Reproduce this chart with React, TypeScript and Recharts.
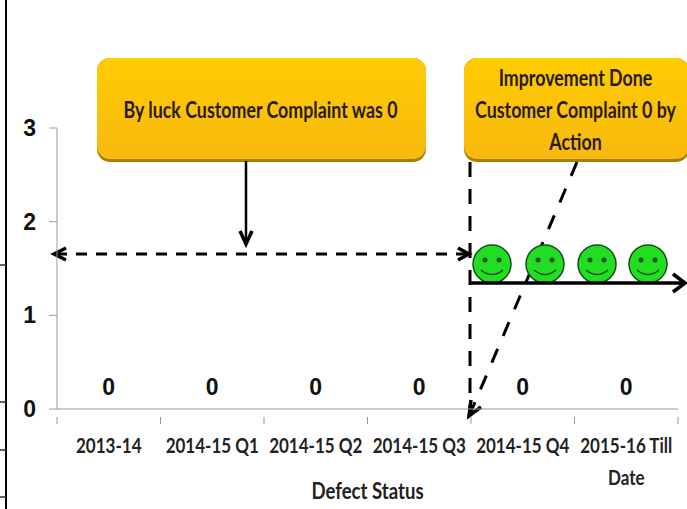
import React from 'react';
import { ComposedChart, Line, Bar, XAxis, YAxis, LabelList, Label } from 'recharts';

const categories = ['2013-14', '2014-15 Q1', '2014-15 Q2', '2014-15 Q3', '2014-15 Q4', '2015-16 Till Date'];
const complaints = [0, 0, 0, 0, 0, 0];
const yTicks = [0, 1, 2, 3];
const data = categories.map((name, i) => ({ name, complaints: complaints[i] }));

const font = 'Lato, "Liberation Sans", sans-serif';
const smileyX = [492, 545, 597, 648];

// Narrow bold text, Lato squeezed to sit close to the Calibri of the original
const NarrowText = ({ x, y, fontSize = 22, fill = '#222', children }: any) => (
    <text
        transform={`translate(${x} ${y}) scale(0.81 1)`}
        textAnchor="middle"
        fontFamily={font}
        fontWeight="bold"
        fontSize={fontSize}
        fill={fill}
    >
        {children}
    </text>
);

// Tick marks sit between the categories, and long names wrap onto a second line
const CategoryTick = ({ x, y, payload, index, width, visibleTicksCount }: any) => {
    const step = width / visibleTicksCount;
    const words = String(payload.value).split(' ');
    const lines = words.length > 2 ? [words.slice(0, 2).join(' '), words.slice(2).join(' ')] : [payload.value];
    return (
        <g>
            <line x1={x - step / 2} x2={x - step / 2} y1={y} y2={y + 7} stroke="#999" />
            {index === visibleTicksCount - 1 && <line x1={x + step / 2} x2={x + step / 2} y1={y} y2={y + 7} stroke="#999" />}
            {lines.map((t: string, i: number) => (
                <NarrowText key={t} x={x} y={y + 36 + i * 32} fontSize={21}>{t}</NarrowText>
            ))}
        </g>
    );
};

// callout box with the darker bottom edge
const Callout = ({ x, y, w, h, lines }: { x: number; y: number; w: number; h: number; lines: string[] }) => (
    <g>
        <rect x={x} y={y} width={w} height={h} rx={13} fill="#a87f0a" />
        <rect x={x} y={y} width={w} height={h - 3} rx={13} fill="url(#calloutFill)" />
        {lines.map((t, i) => (
            <NarrowText key={t} x={x + w / 2 - 1} y={y + h / 2 + 8 + (i - (lines.length - 1) / 2) * 32} fill="#2b1a05">
                {t}
            </NarrowText>
        ))}
    </g>
);

const Smiley = ({ cx }: { cx: number }) => (
    <g>
        <circle cx={cx} cy={264} r={19} fill="#22dd22" stroke="#14501a" strokeWidth={1.5} />
        <circle cx={cx - 7} cy={260} r={2.5} fill="#14501a" />
        <circle cx={cx + 7} cy={260} r={2.5} fill="#14501a" />
        <path d={`M${cx - 11} ${270} Q${cx} ${279} ${cx + 11} ${270}`} fill="none" stroke="#14501a" strokeWidth={1.5} />
    </g>
);

const Head = ({ d }: { d: string }) => <path d={d} fill="none" stroke="#000" strokeWidth={3.5} />;

const Annotations = () => (
    <g>
        <defs>
            <linearGradient id="calloutFill" x1="0" y1="0" x2="0" y2="1">
                <stop offset="0" stopColor="#ffcc00" />
                <stop offset="1" stopColor="#f7b90f" />
            </linearGradient>
        </defs>
        <Callout x={97} y={58} w={329} h={104} lines={['By luck Customer Complaint was 0']} />
        <Callout x={464} y={58} w={225} h={104} lines={['Improvement Done', 'Customer Complaint  0 by', 'Action']} />
        <line x1={246} y1={161} x2={246} y2={243} stroke="#000" strokeWidth={2.5} />
        <Head d="M240 231 L246 244 L252 231" />
        <line x1={56} y1={254} x2={468} y2={254} stroke="#000" strokeWidth={3} strokeDasharray="11 9" />
        <Head d="M66 248 L54 254 L66 260" />
        <Head d="M458 248 L469 254 L458 260" />
        <line x1={470} y1={162} x2={470} y2={412} stroke="#000" strokeWidth={3} strokeDasharray="15 12" />
        <line x1={577} y1={162} x2={470} y2={414} stroke="#000" strokeWidth={3} strokeDasharray="15 14" />
        {smileyX.map((cx) => <Smiley key={cx} cx={cx} />)}
        <line x1={469} y1={283} x2={684} y2={283} stroke="#000" strokeWidth={3.5} />
        <Head d="M673 274 L685 283 L673 292" />
        <Head d="M471 400 L469 416 L481 407" />
        {/* table rules cut off at the left edge of the screenshot */}
        <line x1={6} y1={0} x2={6} y2={509} stroke="#000" strokeWidth={2} />
        {[265, 402, 450, 497].map((y) => (
            <line key={y} x1={0} y1={y} x2={6} y2={y} stroke="#333" strokeWidth={1.5} />
        ))}
    </g>
);

const App = () => (
    <div style={{ position: 'absolute', left: 0, top: 0, width: 687, height: 509, overflow: 'hidden', background: '#fff' }}>
        <ComposedChart
            width={687}
            height={509}
            data={data}
            margin={{ top: 128, right: 9, bottom: 0, left: 0 }}
        >
            <XAxis
                dataKey="name"
                interval={0}
                height={100}
                stroke="#999"
                tickLine={false}
                tick={<CategoryTick />}
            >
                <Label
                    content={({ viewBox }: any) => (
                        <NarrowText x={viewBox.x + viewBox.width / 2} y={viewBox.y + 90} fontSize={23}>Defect Status</NarrowText>
                    )}
                />
            </XAxis>
            <YAxis
                width={57}
                domain={[0, 3]}
                ticks={yTicks}
                stroke="#999"
                tickSize={8}
                tick={{ fill: '#111', fontSize: 23, fontWeight: 'bold', fontFamily: '"Liberation Sans", sans-serif' }}
                tickMargin={13}
            />
            {/* all values are 0, so the bars have no height; a Bar keeps the axis in band mode */}
            <Bar dataKey="complaints" fill="#4f81bd" isAnimationActive={false} />
            {/* the original shows only the value labels for this series */}
            <Line dataKey="complaints" stroke="none" dot={false} isAnimationActive={false}>
                <LabelList dataKey="complaints" position="top" offset={14} fill="#111" fontSize={23} fontWeight="bold" fontFamily='"Liberation Sans", sans-serif' />
            </Line>
            <Annotations />
        </ComposedChart>
    </div>
);

export default App;
